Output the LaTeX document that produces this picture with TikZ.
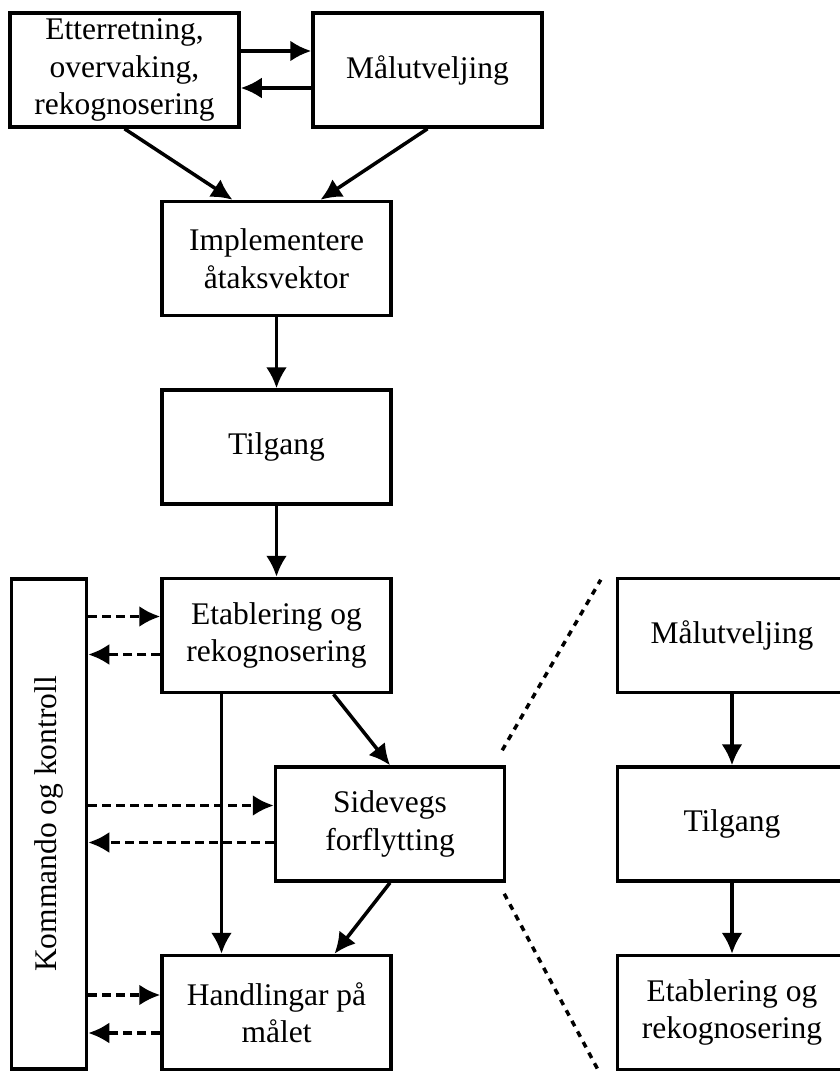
\documentclass[tikz,border=0pt]{standalone}
\usepackage{fontspec}
\setmainfont{Liberation Serif}
\usetikzlibrary{arrows.meta, positioning}

\tikzset{
  box/.style={draw, line width=3.5pt, minimum width=229pt, minimum height=114pt, inner sep=0pt, align=center, font=\fontsize{31.5}{37.5}\selectfont},
  flow/.style={->, line width=3.5pt},
  ctrl/.style={->, line width=3.5pt, dash pattern=on 9pt off 5pt},
  zoomline/.style={line width=3.5pt, dash pattern=on 6pt off 6pt}
}

\begin{document}
\begin{tikzpicture}[>={Latex[length=21pt,width=21pt]}]
    \useasboundingbox (0pt,0pt) rectangle (839pt,-1071pt);

    \node[box] (etter) at (124.5pt,-70pt) {Etterretning,\\overvaking,\\rekognosering};
    \node[box, right of=etter, node distance=303pt] (malut) {Målutveljing};

    \node[box, below of=etter, node distance=188.5pt, xshift=152pt] (impl) {Implementere\\åtaksvektor};
    \node[box, below of=impl, node distance=188.5pt] (tilg) {Tilgang};
    \node[box, below of=tilg, node distance=188.5pt] (etab) {Etablering og\\rekognosering};
    \node[box, below of=etab, node distance=188.5pt, xshift=113.5pt] (side) {Sidevegs\\forflytting};
    \node[box, below of=side, node distance=188.5pt, xshift=-113.5pt] (handl) {Handlingar på\\målet};

    \node[box, minimum width=75pt, minimum height=490pt, below of=etab, node distance=188.5pt, xshift=-227.5pt] (komm) {\rotatebox{90}{Kommando og kontroll}};

    % zoomed part on the right
    \node[box, right of=etab, node distance=455.5pt] (zmal) {Målutveljing};
    \node[box, below of=zmal, node distance=188.5pt] (ztilg) {Tilgang};
    \node[box, below of=ztilg, node distance=188.5pt] (zetab) {Etablering og\\rekognosering};

    % main flow
    \coordinate (a1) at ([yshift=19pt]malut.west);
    \coordinate (a2) at ([yshift=-18pt]etter.east);
    \draw[flow] (etter.east |- a1) -- (a1);
    \draw[flow] (malut.west |- a2) -- (a2);
    \draw[flow] (etter.south) -- ([xshift=-44pt]impl.north);
    \draw[flow] (malut.south) -- ([xshift=44pt]impl.north);
    \draw[flow] (impl) -- (tilg);
    \draw[flow] (tilg) -- (etab);
    \draw[flow] ([xshift=57pt]etab.south) -- (side.north);
    \draw[flow] ([xshift=-55pt]etab.south) -- ([xshift=-55pt]handl.north);
    \draw[flow] (side.south) -- ([xshift=58pt]handl.north);

    % command and control
    \coordinate (c1) at ([yshift=19pt]etab.west);
    \coordinate (c2) at ([yshift=-19pt]etab.west);
    \coordinate (c3) at ([yshift=18.5pt]side.west);
    \coordinate (c4) at ([yshift=-18.5pt]side.west);
    \coordinate (c5) at ([yshift=17.5pt]handl.west);
    \coordinate (c6) at ([yshift=-20.5pt]handl.west);
    \draw[ctrl] (komm.east |- c1) -- (c1);
    \draw[ctrl] (c2) -- (komm.east |- c2);
    \draw[ctrl] (komm.east |- c3) -- (c3);
    \draw[ctrl] (c4) -- (komm.east |- c4);
    \draw[ctrl] (komm.east |- c5) -- (c5);
    \draw[ctrl] (c6) -- (komm.east |- c6);

    \draw[flow] (zmal) -- (ztilg);
    \draw[flow] (ztilg) -- (zetab);

    \coordinate (z1) at ([shift={(-4pt,15pt)}]side.north east);
    \coordinate (z2) at ([shift={(-15pt,-3pt)}]zmal.north west);
    \coordinate (z3) at ([shift={(-2pt,-11pt)}]side.south east);
    \coordinate (z4) at ([shift={(-17pt,0pt)}]zetab.south west);
    \draw[zoomline] (z1) -- (z2);
    \draw[zoomline] (z3) -- (z4);
\end{tikzpicture}
\end{document}
